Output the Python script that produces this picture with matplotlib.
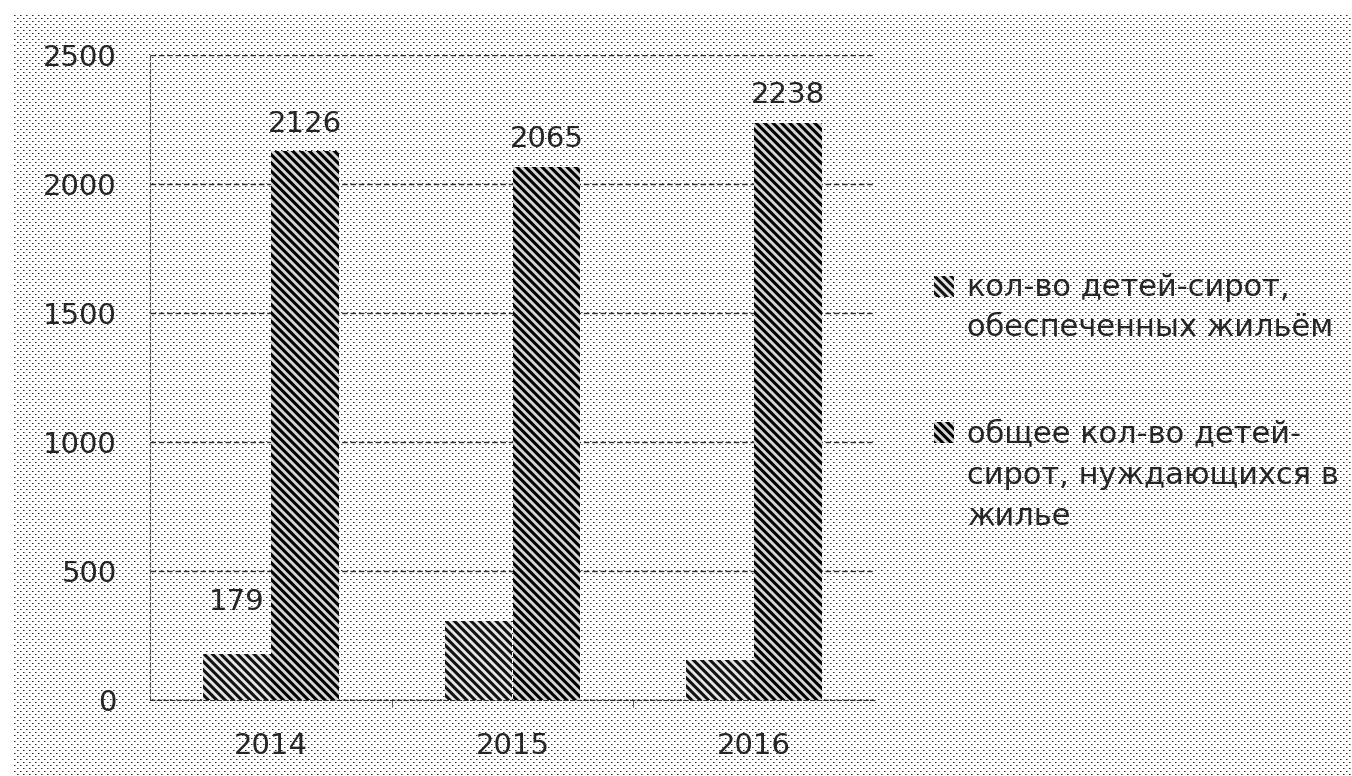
import matplotlib.pyplot as plt
from matplotlib.patches import Rectangle
from matplotlib.legend_handler import HandlerPatch
import numpy as np

# данные
years = ['2014', '2015', '2016']
provided = [179, 305, 155]          # обеспечено жильём
needing = [2126, 2065, 2238]        # нуждаются в жилье
provided_labels = ['179', '', '']
series_names = ['кол-во детей-сирот,\nобеспеченных жильём',
                'общее кол-во детей-\nсирот, нуждающихся в\nжилье']

plt.rcParams['font.family'] = ['DejaVu Sans']
plt.rcParams['hatch.linewidth'] = 2.2
TXT = '#262626'
LINE_STEP = 31.3   # шаг строк легенды, pt

fig = plt.figure(figsize=(13.52, 7.76), dpi=100)
fig.patch.set_facecolor('white')

# точечный фон как в исходной картинке
cell = np.ones((6, 6))
cell[0, 0] = 0.15
cell[0, 1] = 0.55
cell[3, 3] = 0.15
cell[3, 4] = 0.55
tex = np.tile(cell, (761 // 6 + 1, 1338 // 6 + 1))[:761, :1338]
bgax = fig.add_axes([14 / 1352, 0, 1338 / 1352, 761 / 776])
bgax.imshow(tex, cmap='gray', vmin=0, vmax=1, interpolation='nearest', aspect='auto')
bgax.axis('off')

ax = fig.add_axes([150 / 1352, 1 - 700 / 776, 725 / 1352, 645 / 776])
ax.set_facecolor('none')

x = np.arange(len(years))
w = 0.28
b1 = ax.bar(x - w / 2, provided, w, facecolor='#e6e6e6', edgecolor='#111111',
            hatch='\\\\\\\\', linewidth=0, zorder=3)
b2 = ax.bar(x + w / 2, needing, w, facecolor='#d6d6d6', edgecolor='#000000',
            hatch='\\\\\\\\', linewidth=0, zorder=3)
ax.bar_label(b1, labels=provided_labels, padding=27, fontsize=21, color=TXT)
ax.bar_label(b2, padding=10, fontsize=21, color=TXT)

ax.set_xlim(-0.5, 2.5)
ax.set_ylim(0, 2500)
ax.set_yticks([0, 500, 1000, 1500, 2000, 2500])
ax.set_xticks(x)
ax.set_xticklabels(years)
ax.set_xticks([0.5, 1.5], minor=True)
ax.tick_params(axis='y', length=0, pad=24, labelsize=21, labelcolor=TXT)
ax.tick_params(axis='x', which='major', length=0, pad=23, labelsize=21, labelcolor=TXT)
ax.tick_params(axis='x', which='minor', length=5, color='#444444')

ax.grid(axis='y', linestyle=(0, (4, 2)), color='#333333', linewidth=1, zorder=0)
for side in ['top', 'right']:
    ax.spines[side].set_visible(False)
ax.spines['left'].set_linestyle((0, (4, 2)))
ax.spines['left'].set_color('#555555')
ax.spines['bottom'].set_linestyle((0, (4, 2)))
ax.spines['bottom'].set_color('#333333')


# квадратик легенды на уровне первой строки подписи
def make_handler(label):
    n = label.count('\n')

    def top_square(legend, orig_handle, xdescent, ydescent, width, height, fontsize):
        return Rectangle((-xdescent, -ydescent + n * LINE_STEP / 2), width, height)
    return HandlerPatch(patch_func=top_square)


h1, h2 = b1.patches[0], b2.patches[0]
leg = fig.legend(handles=[h1, h2], labels=series_names, loc='upper left',
                 bbox_to_anchor=(907 / 1352, 1 - 245 / 776),
                 frameon=False, fontsize=22, handlelength=0.65, handleheight=0.65,
                 handletextpad=0.43, labelspacing=2.55, alignment='left',
                 handler_map={h1: make_handler(series_names[0]),
                              h2: make_handler(series_names[1])})
for t in leg.get_texts():
    t.set_color(TXT)
    t.set_linespacing(1.51)

fig.savefig('out.png', dpi=100)
